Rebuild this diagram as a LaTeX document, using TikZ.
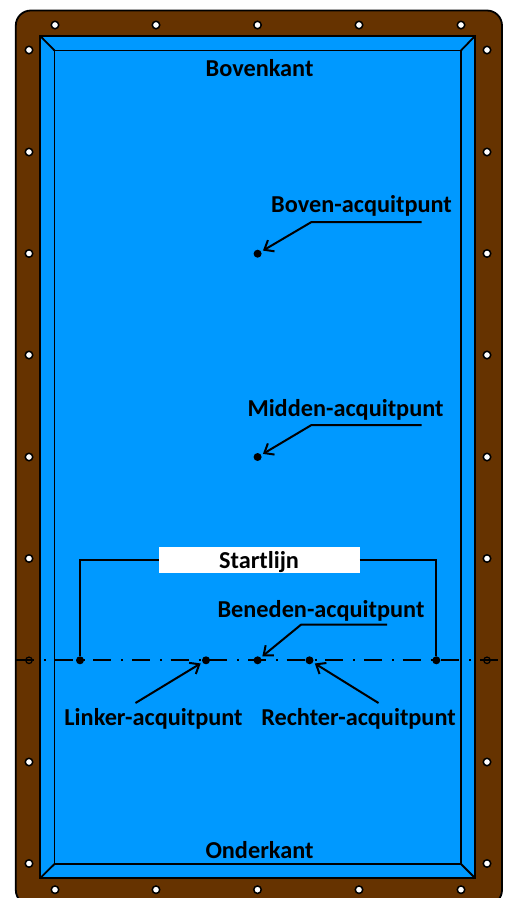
\documentclass[tikz,border=0pt]{standalone}
\usepackage{fontspec}
\setmainfont{Carlito}
\usetikzlibrary{arrows.meta}
\definecolor{rail}{HTML}{663300}
\definecolor{cloth}{HTML}{0099FF}
\tikzset{
  x=1pt,y=-1pt,
  lbl/.style={font=\fontsize{24.3}{26}\bfseries\selectfont,inner sep=0pt,text=black},
  hole/.style={circle,draw=black,fill=white,line width=1.5pt,minimum size=7.5pt,inner sep=0pt},
  spot/.style={circle,fill=black,minimum size=8pt,inner sep=0pt},
  edge/.style={draw=black,line width=1.8pt},
  lead/.style={draw=black,line width=2pt,-{Straight Barb[length=8pt,width=13pt,line width=2pt]}},
  startline/.style={draw=black,line width=2pt},
  baulk/.style={draw=black,line width=2.3pt,dash pattern=on 18pt off 10pt on 2pt off 8.67pt}
}
\begin{document}
\begin{tikzpicture}
\useasboundingbox (0,0) rectangle (508,898);
\clip (0,0) rectangle (508,898);
% frame
\draw[edge,fill=rail,rounded corners=15pt] (15.8,10.5) rectangle (502,905);
\draw[edge,fill=cloth] (40.3,36) rectangle (475,878);
\draw[edge] (54.5,50.5) rectangle (461,864);
\draw[edge] (40.3,36) -- (54.5,50.5);
\draw[edge] (475,36) -- (461,50.5);
\draw[edge] (40.3,878) -- (54.5,864);
\draw[edge] (475,878) -- (461,864);
% baulk line
\coordinate (bl) at (16,660.3);
\coordinate (br) at (502,660.3);
\draw[baulk] (bl) -- (br);
% diamonds
\foreach \n/\px in {a/55,b/156,c/257.5,d/359,e/461}{
  \node[hole] (t\n) at (\px,25) {};
  \node[hole] (u\n) at (\px,889.7) {};
}
\foreach \n/\py in {a/50,b/152,c/253.5,d/355,e/457,f/558.5,h/762,i/863.5}{
  \node[hole] (l\n) at (29,\py) {};
  \node[hole] (r\n) at (487,\py) {};
}
\node[hole,fill=none,minimum size=6.5pt,line width=1.2pt] (lg) at (29,660.3) {};
\node[hole,fill=none,minimum size=6.5pt,line width=1.2pt] (rg) at (487,660.3) {};
% spots
\node[spot] (sb) at (257.6,253.7) {};
\node[spot] (sm) at (257.6,457) {};
\node[spot] (sl) at (80,660.3) {};
\node[spot] (sr) at (436.3,660.3) {};
\node[spot] (sli) at (206,660.3) {};
\node[spot] (sbe) at (257.6,660.3) {};
\node[spot] (sre) at (309.5,660.3) {};
% start line
\node[fill=white,minimum width=200.7pt,minimum height=26pt,inner sep=0pt] (start) at (259.3,560.3) {};
\node[lbl] (startt) at (259,562) {Startlijn};
\draw[startline] (start.west) -| (sl);
\draw[startline] (start.east) -| (sr);
% labels
\node[lbl] (top) at (259.5,68) {Bovenkant};
\node[lbl] (bot) at (259.5,850.5) {Onderkant};
\node[lbl] (lb) at (361.5,205.5) {Boven-acquitpunt};
\node[lbl] (lm) at (345.5,409.5) {Midden-acquitpunt};
\node[lbl] (lbe) at (321,611) {Beneden-acquitpunt};
\node[lbl] (lli) at (153.5,718.5) {Linker-acquitpunt};
\node[lbl] (lre) at (358.5,718.5) {Rechter-acquitpunt};
% leaders
\coordinate (b0) at (421.7,222);
\coordinate (b1) at (311.5,222);
\coordinate (m0) at (421.7,425);
\coordinate (m1) at (311.5,425);
\coordinate (e0) at (387,624.7);
\coordinate (e1) at (301,624.7);
\coordinate (i0) at (135.5,703);
\coordinate (r0) at (378.5,703);
\draw[lead,shorten >=2pt] (b0) -- (b1) -- (sb.30);
\draw[lead,shorten >=2pt] (m0) -- (m1) -- (sm.30);
\draw[lead,shorten >=2pt] (e0) -- (e1) -- (sbe.40);
\draw[lead,shorten >=2pt] (i0) -- (sli.210);
\draw[lead,shorten >=2pt] (r0) -- (sre.330);
\end{tikzpicture}
\end{document}
